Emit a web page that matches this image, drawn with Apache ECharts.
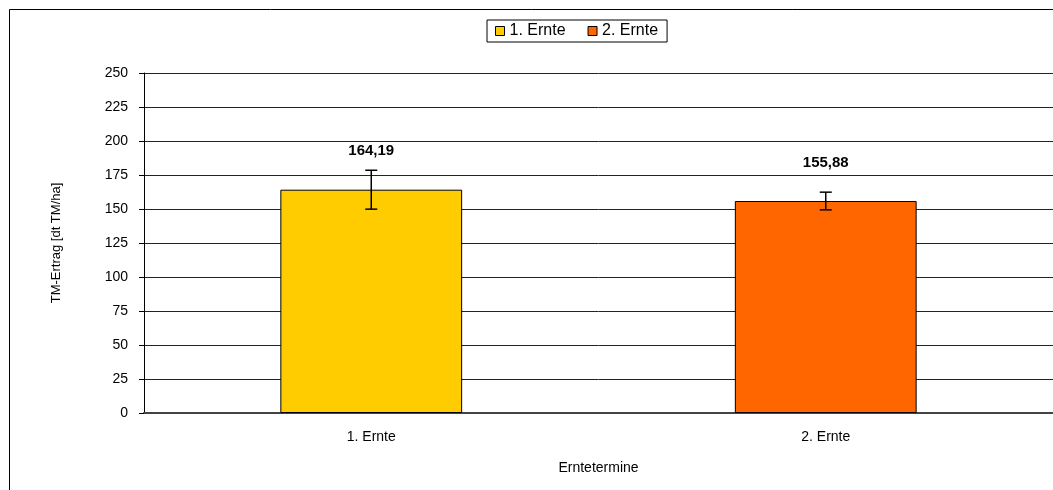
<!DOCTYPE html>
<html lang="de">
<head>
    <meta charset="UTF-8"/>
    <title>TM-Ertrag</title>
    <script src="https://cdn.jsdelivr.net/npm/echarts@6/dist/echarts.min.js"></script>
    <style>
        html, body { margin: 0; padding: 0; background: #fff; }
    </style>
</head>
<body>
<div id="main" style="width: 1053px; height: 490px;"></div>

<script type="text/javascript">
    // Daten
    var categories = ['1. Ernte', '2. Ernte'];
    var ertrag = [164.19, 155.88];
    var fehler = [14.3, 6.5];      // Standardabweichung
    var yTicks = [0, 25, 50, 75, 100, 125, 150, 175, 200, 225, 250];
    var farben = ['#FFCC00', '#FF6600'];

    var myChart = echarts.init(document.getElementById('main'));

    function komma(v) {
        return v.toFixed(2).replace('.', ',');
    }

    // je Ernte eine Serie, damit die Legende zwei Einträge hat
    var barSeries = categories.map(function (name, i) {
        var data = categories.map(function (c, j) { return j === i ? ertrag[i] : '-'; });
        return {
            name: name,
            type: 'bar',
            data: data,
            barWidth: '40%',
            barGap: '-100%',
            itemStyle: { color: farben[i], borderColor: '#000', borderWidth: 1 },
            label: {
                show: true,
                position: 'top',
                distance: 31,
                fontFamily: 'Liberation Sans, Arial',
                fontSize: 15,
                fontWeight: 'bold',
                color: '#000',
                formatter: function (p) { return komma(p.value); }
            },
            z: 2
        };
    });

    var errData = ertrag.map(function (v, i) { return [i, v - fehler[i], v + fehler[i]]; });

    option = {
        animation: false,
        backgroundColor: '#fff',
        textStyle: { fontFamily: 'Liberation Sans, Arial' },
        graphic: [{
            type: 'rect',
            shape: { x: 9.5, y: 9.5, width: 1100, height: 600 },
            style: { fill: 'none', stroke: '#000', lineWidth: 1 },
            silent: true
        }],
        legend: {
            top: 20,
            left: 487,
            data: categories,
            itemWidth: 9,
            itemHeight: 9,
            itemGap: 22,
            padding: [3, 9, 3, 8],
            borderColor: '#000',
            borderWidth: 1,
            icon: 'rect',
            itemStyle: { borderColor: '#000', borderWidth: 1 },
            textStyle: { fontSize: 16, color: '#000', fontFamily: 'Liberation Sans, Arial' }
        },
        grid: { left: 144, right: -3, top: 73, bottom: 77 },
        xAxis: {
            type: 'category',
            data: categories,
            name: 'Erntetermine',
            nameLocation: 'middle',
            nameGap: 48,
            nameTextStyle: { fontSize: 14, color: '#000' },
            axisLine: { lineStyle: { color: '#444', width: 2 } },
            axisTick: { length: 6, lineStyle: { color: '#444' } },
            axisLabel: { fontSize: 14, color: '#000', margin: 17 }
        },
        yAxis: {
            type: 'value',
            min: yTicks[0],
            max: yTicks[yTicks.length - 1],
            interval: 25,
            name: 'TM-Ertrag [dt TM/ha]',
            nameLocation: 'middle',
            nameGap: 81,
            nameTextStyle: { fontSize: 13, color: '#000' },
            axisLine: { show: true, lineStyle: { color: '#000' } },
            axisTick: { show: true, length: 5, lineStyle: { color: '#000' } },
            axisLabel: { fontSize: 14, color: '#000', margin: 16 },
            splitLine: { lineStyle: { color: '#222', width: 1 } }
        },
        series: barSeries.concat([{
            type: 'custom',
            name: 'Fehler',
            data: errData,
            z: 5,
            renderItem: function (params, api) {
                var x = api.coord([api.value(0), api.value(1)])[0];
                var yLo = api.coord([api.value(0), api.value(1)])[1];
                var yHi = api.coord([api.value(0), api.value(2)])[1];
                var w = 6;
                var st = { stroke: '#000', lineWidth: 1.5 };
                return {
                    type: 'group',
                    children: [
                        { type: 'line', shape: { x1: x, y1: yHi, x2: x, y2: yLo }, style: st },
                        { type: 'line', shape: { x1: x - w, y1: yHi, x2: x + w, y2: yHi }, style: st },
                        { type: 'line', shape: { x1: x - w, y1: yLo, x2: x + w, y2: yLo }, style: st }
                    ]
                };
            }
        }])
    };

    myChart.setOption(option);
</script>
</body>
</html>
